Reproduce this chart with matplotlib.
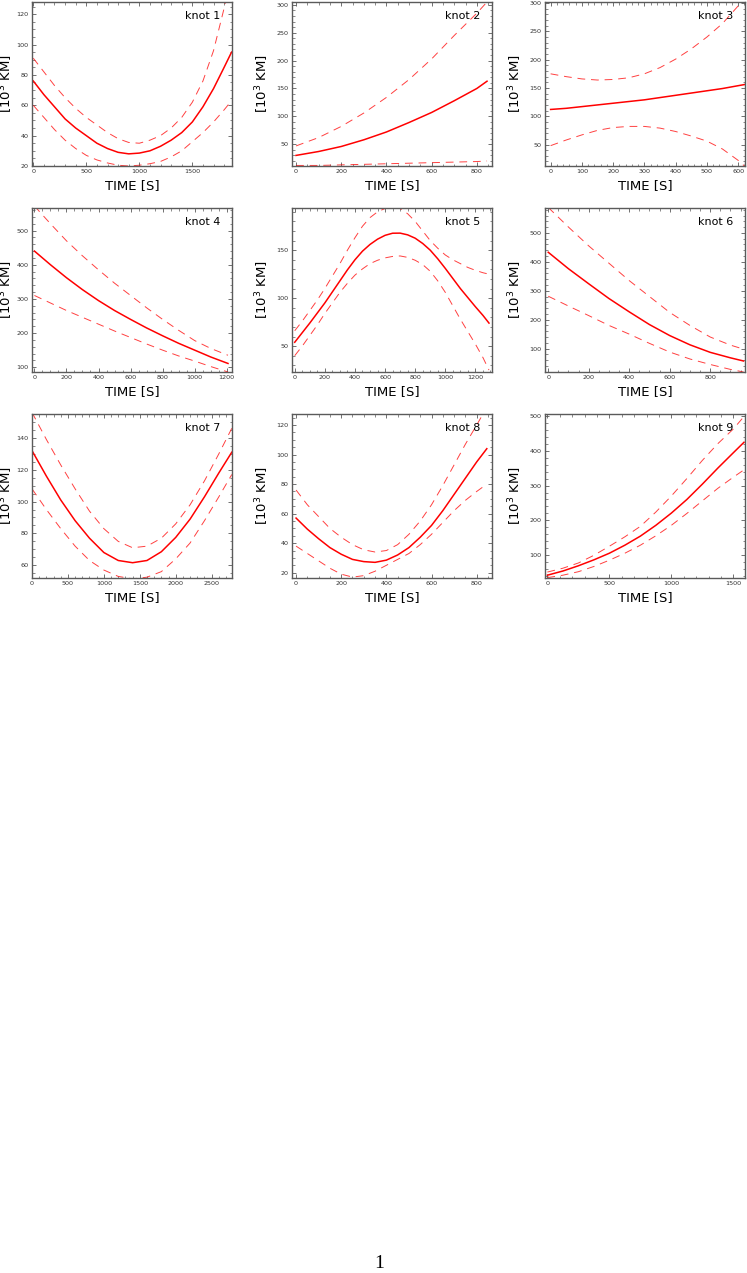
import matplotlib
matplotlib.use("Agg")
import matplotlib.pyplot as plt
from matplotlib.ticker import MultipleLocator, AutoMinorLocator

FIG_W = 7.47
FIG_H = 12.73
RED = '#ff0000'
GREY = '#5a5a5a'

# knot 1
t1 = [0, 100, 200, 300, 400, 500, 600, 700, 800, 900, 1000, 1100, 1200,
      1300, 1400, 1500, 1600, 1700, 1800, 1870]
fit1 = [76, 67, 59, 51, 45, 40, 35, 31.5, 29, 28, 28.5, 30, 33, 37, 42,
        49, 59, 71, 85, 95]
up1 = [91, 82, 73, 65, 58, 52, 47, 42, 38, 35.5, 35, 37, 40, 45, 52, 62,
       76, 96, 124, 148]
lo1 = [60, 52, 44, 37, 31.5, 27, 24, 22, 20.5, 20, 20.5, 21.5, 23, 26, 30,
       36, 42, 49, 57, 63]

# knot 2
t2 = [0, 100, 200, 300, 400, 500, 600, 700, 800, 845]
fit2 = [30, 37, 46, 58, 72, 89, 107, 128, 150, 163]
up2 = [47, 62, 82, 106, 134, 166, 203, 245, 285, 305]
lo2 = [12, 12, 13, 14, 15, 16, 17, 18, 19, 20]

# knot 3
t3 = [0, 50, 100, 150, 200, 250, 300, 350, 400, 450, 500, 550, 600, 620]
fit3 = [112, 114, 117, 120, 123, 126, 129, 133, 137, 141, 145, 149, 154, 156]
up3 = [175, 170, 166, 164, 165, 168, 175, 186, 201, 219, 240, 264, 295, 306]
lo3 = [48, 58, 67, 75, 80, 82, 82, 79, 73, 65, 56, 42, 22, 12]

# knot 4
t4 = [0, 100, 200, 300, 400, 500, 600, 700, 800, 900, 1000, 1100, 1208]
fit4 = [440, 400, 362, 327, 295, 266, 240, 215, 192, 170, 150, 130, 111]
up4 = [572, 520, 470, 426, 385, 346, 310, 274, 240, 208, 178, 155, 135]
lo4 = [310, 288, 266, 246, 226, 206, 187, 168, 150, 133, 118, 102, 86]

# knot 5
t5 = [0, 50, 100, 150, 200, 250, 300, 350, 400, 450, 500, 550, 600, 650,
      700, 750, 800, 850, 900, 950, 1000, 1050, 1100, 1150, 1200, 1250, 1290]
fit5 = [54, 64, 74, 84.5, 95, 106.5, 118, 129.5, 140, 149, 156, 161.5,
        165.5, 167.7, 167.8, 166, 162.5, 157, 150, 141, 131, 120.5, 110,
        100.5, 91, 82, 74]
up5 = [66, 76, 87, 98, 110, 123, 136, 150, 163, 175, 184, 190, 193.5, 195,
       193.5, 188, 180, 170, 160, 152, 145, 140, 136, 132, 129, 126.5, 125]
lo5 = [40, 50, 61, 72, 84, 95, 106, 115.5, 124, 130.5, 136, 139.5, 142,
       143.5, 144, 142.5, 139.5, 135, 128, 118, 106, 92, 78, 65, 52, 38, 25]

# knot 6
t6 = [0, 100, 200, 300, 400, 500, 600, 700, 800, 900, 965]
fit6 = [433, 376, 324, 273, 227, 183, 145, 113, 87, 68, 57]
up6 = [588, 520, 455, 395, 335, 280, 225, 180, 140, 112, 98]
lo6 = [281, 247, 214, 180, 150, 118, 88, 64, 45, 28, 19]

# knot 7
t7 = [0, 200, 400, 600, 800, 1000, 1200, 1400, 1600, 1800, 2000, 2200,
      2400, 2600, 2780]
fit7 = [132, 116, 101, 88, 77, 68, 63, 61.6, 63, 68.5, 77.5, 89, 103,
        118, 131]
up7 = [156, 139, 123, 108, 94, 83, 75, 71, 72, 77, 86, 98, 113, 130, 146]
lo7 = [108, 95, 83, 72, 63, 57, 53, 51.5, 52.5, 56, 64, 74, 88, 103, 117]

# knot 8
t8 = [0, 50, 100, 150, 200, 250, 300, 350, 400, 450, 500, 550, 600, 650,
      700, 750, 800, 845]
fit8 = [57, 49.5, 43, 37, 32.5, 29, 27.5, 27, 28.5, 32, 37, 44, 52, 62,
        73, 84, 95, 104]
up8 = [76, 66, 58, 50, 44, 39, 35.5, 34, 35, 39, 46, 55, 66, 79, 93, 107,
       120, 132]
lo8 = [38, 33, 28, 23, 19, 17, 18, 21, 25, 29, 33, 39, 46, 54, 62, 69,
       75, 80]

# knot 9
t9 = [0, 125, 250, 375, 500, 625, 750, 875, 1000, 1125, 1250, 1375, 1500,
      1586]
fit9 = [43, 55, 70, 87, 106, 129, 155, 186, 221, 260, 304, 350, 394, 424]
up9 = [52, 63, 78, 100, 126, 153, 183, 224, 270, 320, 372, 420, 462, 498]
lo9 = [36, 43, 53, 68, 86, 106, 129, 156, 186, 220, 256, 292, 324, 345]

curves = [(t1, fit1, up1, lo1), (t2, fit2, up2, lo2), (t3, fit3, up3, lo3),
          (t4, fit4, up4, lo4), (t5, fit5, up5, lo5), (t6, fit6, up6, lo6),
          (t7, fit7, up7, lo7), (t8, fit8, up8, lo8), (t9, fit9, up9, lo9)]

xlims = [(-12, 1874), (-18, 867), (-18, 622), (-15, 1233), (-18, 1310),
         (-16, 972), (0, 2783), (-18, 868), (-19, 1594)]
ylims = [(20, 128), (11, 305), (12, 302), (86, 566), (23, 194),
         (19, 586), (52, 155), (16.4, 127.5), (35, 505)]
xsteps = [500, 200, 100, 200, 200, 200, 500, 200, 500]
ysteps = [20, 50, 50, 100, 50, 100, 20, 20, 100]


def n_minor(step):
    return 4 if str(step)[0] == '2' else 5


fig = plt.figure(figsize=(FIG_W, FIG_H), dpi=100)
lefts = [32, 292, 545]
tops = [2, 208, 414]
ylab_x = [-0.085, -0.105, -0.105]
for k in range(9):
    r, c = divmod(k, 3)
    ax = fig.add_axes([lefts[c] / 747, 1 - (tops[r] + 164) / 1273,
                       200 / 747, 164 / 1273])
    t, fit, up, lo = curves[k]
    ax.plot(t, fit, '-', color=RED, lw=1.1)
    for band in (up, lo):
        ax.plot(t, band, '-', color=RED, lw=0.7, alpha=0.75, dashes=(8, 6))
    ax.set_xlim(*xlims[k])
    ax.set_ylim(*ylims[k])
    ax.xaxis.set_major_locator(MultipleLocator(xsteps[k]))
    ax.yaxis.set_major_locator(MultipleLocator(ysteps[k]))
    ax.xaxis.set_minor_locator(AutoMinorLocator(n_minor(xsteps[k])))
    ax.yaxis.set_minor_locator(AutoMinorLocator(n_minor(ysteps[k])))
    ax.tick_params(which='both', direction='in', top=True, right=True,
                   color=GREY, labelsize=4.6, labelcolor='#333333', pad=2.5)
    ax.tick_params(which='major', length=3.2, width=0.6)
    ax.tick_params(which='minor', length=1.8, width=0.5)
    for s in ax.spines.values():
        s.set_color(GREY)
        s.set_linewidth(1.0)
    ax.set_xlabel('TIME [S]', fontsize=9.5)
    ax.xaxis.set_label_coords(0.5, -0.08)
    ax.set_ylabel(r'[10$^3$ KM]', fontsize=9.5)
    ax.yaxis.set_label_coords(ylab_x[c], 0.5)
    ax.text(0.94, 0.945, 'knot %d' % (k + 1), transform=ax.transAxes,
            ha='right', va='top', fontsize=8)

fig.text(379 / 747, 1 - 1264 / 1273, '1', ha='center', va='center',
         family='Liberation Serif', fontsize=14)

fig.savefig("out.png", dpi=100)
